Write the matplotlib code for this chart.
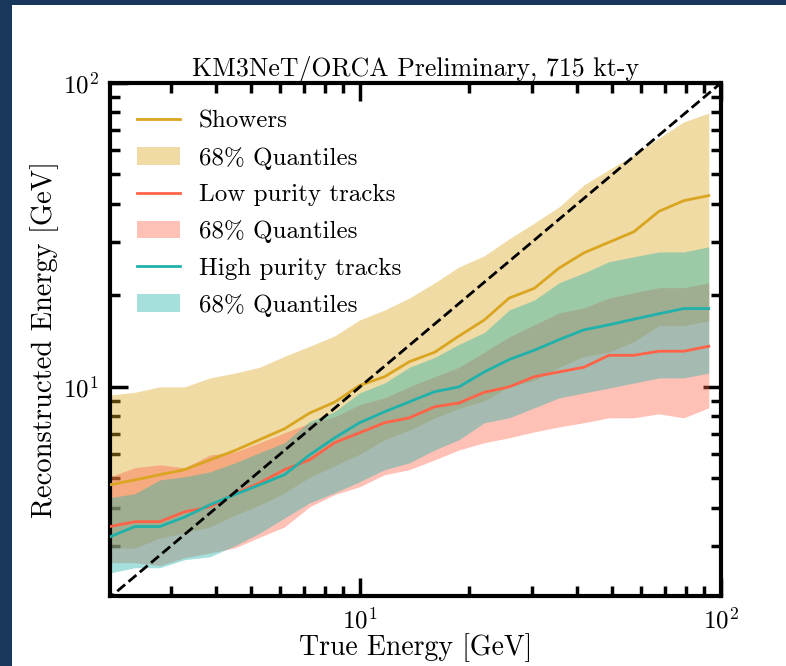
import numpy as np
import matplotlib
matplotlib.use("Agg")
import matplotlib.pyplot as plt
from matplotlib.patches import Rectangle

plt.rcParams['font.family'] = 'serif'
plt.rcParams['font.serif'] = ['cmr10']
plt.rcParams['mathtext.fontset'] = 'cm'
plt.rcParams['axes.formatter.use_mathtext'] = True
plt.rcParams['axes.unicode_minus'] = False

# bin centres in true energy [GeV]
e_true = [2.03, 2.38, 2.79, 3.27, 3.84, 4.50, 5.27, 6.18, 7.25, 8.50, 9.97, 11.7, 13.7,
          16.1, 18.8, 22.1, 25.9, 30.4, 35.6, 41.7, 48.9, 57.4, 67.3, 78.9, 92.5]

# showers: median and 68% band
shw_med = [4.76, 4.94, 5.14, 5.34, 5.75, 6.17, 6.70, 7.28, 8.2, 8.9, 10.1, 10.8, 12.1,
           13.0, 14.7, 16.6, 19.6, 21.1, 24.6, 27.6, 29.9, 32.4, 37.8, 41.0, 42.6]
shw_hi = [9.4, 9.6, 10.0, 10.0, 10.7, 11.1, 11.6, 12.6, 13.6, 14.7, 16.6, 17.9, 19.6,
          22.0, 24.8, 27.0, 30.7, 34.6, 39.1, 46.2, 51.8, 58.0, 65.9, 74.5, 79.6]
shw_lo = [2.95, 2.95, 3.18, 3.31, 3.46, 3.78, 4.08, 4.48, 5.04, 5.5, 6.0, 6.7, 7.2,
          7.9, 8.5, 9.0, 10.0, 10.5, 11.6, 12.6, 13.0, 14.1, 15.9, 15.9, 16.5]

# low purity tracks
low_med = [3.47, 3.60, 3.60, 3.88, 4.03, 4.45, 4.83, 5.34, 5.75, 6.55, 7.06, 7.62, 7.91,
           8.6, 8.85, 9.6, 10.0, 10.8, 11.2, 11.6, 12.7, 12.7, 13.1, 13.1, 13.6]
low_hi = [5.06, 5.42, 5.54, 5.42, 5.97, 6.1, 6.55, 7.06, 7.6, 7.96, 8.73, 9.2, 10.0,
          10.8, 11.6, 13.0, 14.6, 16.0, 17.5, 18.2, 19.6, 20.4, 21.2, 21.2, 22.0]
low_lo = [2.64, 2.64, 2.58, 2.74, 2.84, 2.95, 3.2, 3.46, 4.03, 4.42, 4.69, 5.14, 5.34,
          5.75, 6.2, 6.55, 6.80, 7.11, 7.38, 7.62, 7.91, 7.91, 8.15, 7.91, 8.53]

# high purity tracks
high_med = [3.21, 3.47, 3.47, 3.73, 4.09, 4.42, 4.76, 5.14, 5.97, 6.79, 7.62, 8.28, 8.93,
            9.64, 10.0, 11.2, 12.3, 13.2, 14.3, 15.4, 16.0, 16.7, 17.4, 18.1, 18.1]
high_hi = [4.32, 4.45, 4.94, 5.06, 5.25, 5.62, 6.07, 6.55, 7.7, 8.28, 9.55, 10.3, 11.6,
           12.5, 13.8, 15.1, 17.9, 19.3, 22.0, 23.7, 25.8, 26.8, 27.8, 27.8, 28.9]
high_lo = [2.44, 2.54, 2.54, 2.70, 2.76, 3.0, 3.3, 3.7, 4.15, 4.48, 4.87, 5.34, 5.62,
           6.2, 6.7, 7.62, 7.91, 8.53, 9.2, 9.55, 9.9, 10.3, 10.7, 10.7, 11.1]

samples = [
    ("Showers", shw_med, shw_lo, shw_hi, "goldenrod"),
    ("Low purity tracks", low_med, low_lo, low_hi, "tomato"),
    ("High purity tracks", high_med, high_lo, high_hi, "lightseagreen"),
]

fig = plt.figure(figsize=(7.86, 6.66), dpi=100)
fig.patch.set_facecolor("white")
# slide frame on the left and top edge
fig.patches.append(Rectangle((0, 0), 12 / 786, 1, transform=fig.transFigure,
                             facecolor="#19375c", edgecolor="none", zorder=-10))
fig.patches.append(Rectangle((0, 1 - 5 / 666), 1, 5 / 666, transform=fig.transFigure,
                             facecolor="#19375c", edgecolor="none", zorder=-10))

ax = fig.add_axes([0.1399, 0.1051, 0.7774, 0.7703])

for name, med, lo, hi, col in samples:
    ax.plot(e_true, med, color=col, lw=2, label=name, zorder=3)
    ax.fill_between(e_true, lo, hi, color=col, alpha=0.4, lw=0,
                    label="68% Quantiles", zorder=2)

ax.plot([1, 100], [1, 100], "k--", lw=2, zorder=4)

ax.set_xscale("log")
ax.set_yscale("log")
ax.set_xlim(2.03, 100)
ax.set_ylim(2.05, 100)

for s in ax.spines.values():
    s.set_linewidth(3)
ax.tick_params(which="both", direction="in", top=True, right=True, labelsize=18)
ax.tick_params(which="major", length=13, width=2.5, pad=8)
ax.tick_params(which="minor", length=7, width=2.5)
ax.yaxis.set_minor_formatter(plt.NullFormatter())
ax.xaxis.set_minor_formatter(plt.NullFormatter())

ax.set_xlabel("True Energy [GeV]", fontsize=20, labelpad=0)
ax.set_ylabel("Reconstructed Energy [GeV]", fontsize=20.5, labelpad=3)
ax.set_title("KM3NeT/ORCA Preliminary, 715 kt-y", fontsize=18.6, pad=5)

ax.legend(loc="upper left", frameon=False, fontsize=18, handlelength=1.7,
          labelspacing=0.56, borderaxespad=0.7, handletextpad=0.75)

fig.savefig("out.png", dpi=100)
